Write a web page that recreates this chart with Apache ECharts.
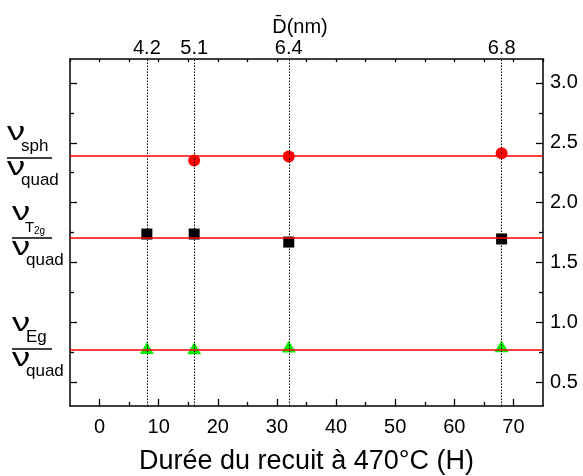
<!DOCTYPE html>
<html>
<head>
<meta charset="utf-8">
<script src="https://cdn.jsdelivr.net/npm/echarts@6/dist/echarts.min.js"></script>
<style>
  html, body { margin: 0; background: #fff; }
  #chart { width: 583px; height: 476px; }
</style>
</head>
<body>
<div id="chart"></div>
<script>
// annealing durations (H) and the matching mean diameters (nm)
var durations = [8, 16, 32, 68];
var diameters = ['4.2', '5.1', '6.4', '6.8'];

// ratios
var sphX = [16, 32, 68];
var sphY = [2.352, 2.385, 2.413];
var t2gY = [1.737, 1.737, 1.67, 1.696];
var egY = [0.785, 0.782, 0.797, 0.800];
var refLines = [2.389, 1.708, 0.774];

// ticks
var xMajor = [0, 10, 20, 30, 40, 50, 60, 70];
var xMinor = [5, 15, 25, 35, 45, 55, 65];
var yMajor = [0.5, 1.0, 1.5, 2.0, 2.5, 3.0];
var yMinor = [0.75, 1.25, 1.75, 2.25, 2.75];

var FONT = 'Liberation Sans, Arial, sans-serif';

var chart = echarts.init(document.getElementById('chart'));

function pairs(xs, ys) {
    return xs.map(function (x, i) { return [x, ys[i]]; });
}

function xAx(pos, ticks, len, opts) {
    return Object.assign({
        type: 'value', position: pos, min: -5, max: 75,
        axisLine: { show: false, onZero: false },
        axisTick: { show: true, inside: true, length: len, customValues: ticks,
            lineStyle: { color: '#000', width: 1.3 } },
        axisLabel: { show: false },
        splitLine: { show: false }
    }, opts || {});
}

function yAx(pos, ticks, len, opts) {
    return Object.assign({
        type: 'value', position: pos, min: 0.3, max: 3.2,
        axisLine: { show: false, onZero: false },
        axisTick: { show: true, inside: true, length: len, customValues: ticks,
            lineStyle: { color: '#000', width: 1.3 } },
        axisLabel: { show: false },
        splitLine: { show: false }
    }, opts || {});
}

var axisLine = { show: true, onZero: false, lineStyle: { color: '#000', width: 1.5 } };

var option = {
    backgroundColor: '#fff',
    animation: false,
    grid: { left: 70, right: 40, top: 59, bottom: 70, outerBoundsMode: 'none' },
    xAxis: [
        xAx('bottom', xMajor, 7, {
            axisLine: axisLine,
            axisLabel: { show: true, customValues: xMajor, margin: 11,
                color: '#000', fontSize: 20, fontFamily: FONT },
            name: 'Durée du recuit à 470°C (H)',
            nameLocation: 'middle', nameGap: 42, nameMoveOverlap: false,
            nameTextStyle: { color: '#000', fontSize: 27, fontFamily: FONT }
        }),
        xAx('bottom', xMinor, 4),
        {
            type: 'value', position: 'top', min: -5, max: 75, interval: 5,
            axisLine: axisLine,
            axisTick: { show: true, inside: true, length: 3,
                lineStyle: { color: '#000', width: 1.3 } },
            axisLabel: { show: true, customValues: durations, margin: 1,
                color: '#000', fontSize: 20, fontFamily: FONT,
                formatter: function (v) { return diameters[durations.indexOf(v)]; } },
            splitLine: { show: false },
            name: 'D\u0304(nm)',
            nameLocation: 'middle', nameGap: 22, nameMoveOverlap: false,
            nameTextStyle: { color: '#000', fontSize: 20, fontFamily: FONT, padding: [0, 13, 0, 0] }
        }
    ],
    yAxis: [
        yAx('left', yMajor, 7, { axisLine: axisLine }),
        yAx('left', yMinor, 4),
        yAx('right', yMajor, 7, {
            axisLine: axisLine,
            axisLabel: { show: true, customValues: yMajor, margin: 7,
                color: '#000', fontSize: 20, fontFamily: FONT,
                formatter: function (v) { return v.toFixed(1); } }
        }),
        yAx('right', yMinor, 4)
    ],
    series: [
        {
            name: 'sph', type: 'scatter', symbol: 'circle', symbolSize: 12,
            itemStyle: { color: '#ff0000', opacity: 1 },
            data: pairs(sphX, sphY),
            markLine: {
                silent: true, symbol: 'none', label: { show: false },
                lineStyle: { color: '#000', type: [1.5, 1.5], width: 1 },
                data: durations.map(function (d) { return { xAxis: d }; })
            }
        },
        {
            name: 'T2g', type: 'scatter', symbol: 'rect', symbolSize: 11,
            itemStyle: { color: '#000', opacity: 1 },
            data: pairs(durations, t2gY)
        },
        {
            name: 'Eg', type: 'scatter', symbol: 'triangle', symbolSize: [14, 12],
            itemStyle: { color: '#00ee00', opacity: 1 },
            data: pairs(durations, egY),
            markLine: {
                silent: true, symbol: 'none', label: { show: false },
                lineStyle: { color: '#ff0000', type: 'solid', width: 1.5 },
                data: refLines.map(function (v) { return { yAxis: v }; })
            }
        }
    ],
    graphic: []
};

// ratio labels on the left
var labels = [
    { L: 158, x: 7, sub: 'sph' },
    { L: 238, x: 12, sub: 'T', sub2: '2g' },
    { L: 349, x: 12, sub: 'Eg' }
];
labels.forEach(function (lb) {
    var ts = function (text, size, x, y, sx) {
        return {
            type: 'text', x: x, y: y, scaleX: sx || 1,
            style: { text: text, x: 0, y: 0, fill: '#000',
                font: size + 'px ' + FONT, textVerticalAlign: 'middle' }
        };
    };
    option.graphic.push(ts('ν', 26, lb.x, lb.L - 25, 1.4));
    if (lb.sub2) {
        option.graphic.push(ts(lb.sub, 15, lb.x + 13, lb.L - 10));
        option.graphic.push(ts(lb.sub2, 10, lb.x + 22, lb.L - 7));
    } else {
        option.graphic.push(ts(lb.sub, 17, lb.x + 14, lb.L - 12));
    }
    option.graphic.push({
        type: 'line',
        shape: { x1: lb.x, y1: lb.L, x2: 52, y2: lb.L },
        style: { stroke: '#000', lineWidth: 1.3 }
    });
    option.graphic.push(ts('ν', 26, lb.x, lb.L + 10, 1.4));
    option.graphic.push(ts('quad', 17, lb.x + 14, lb.L + 22));
});

chart.setOption(option);
</script>
</body>
</html>
